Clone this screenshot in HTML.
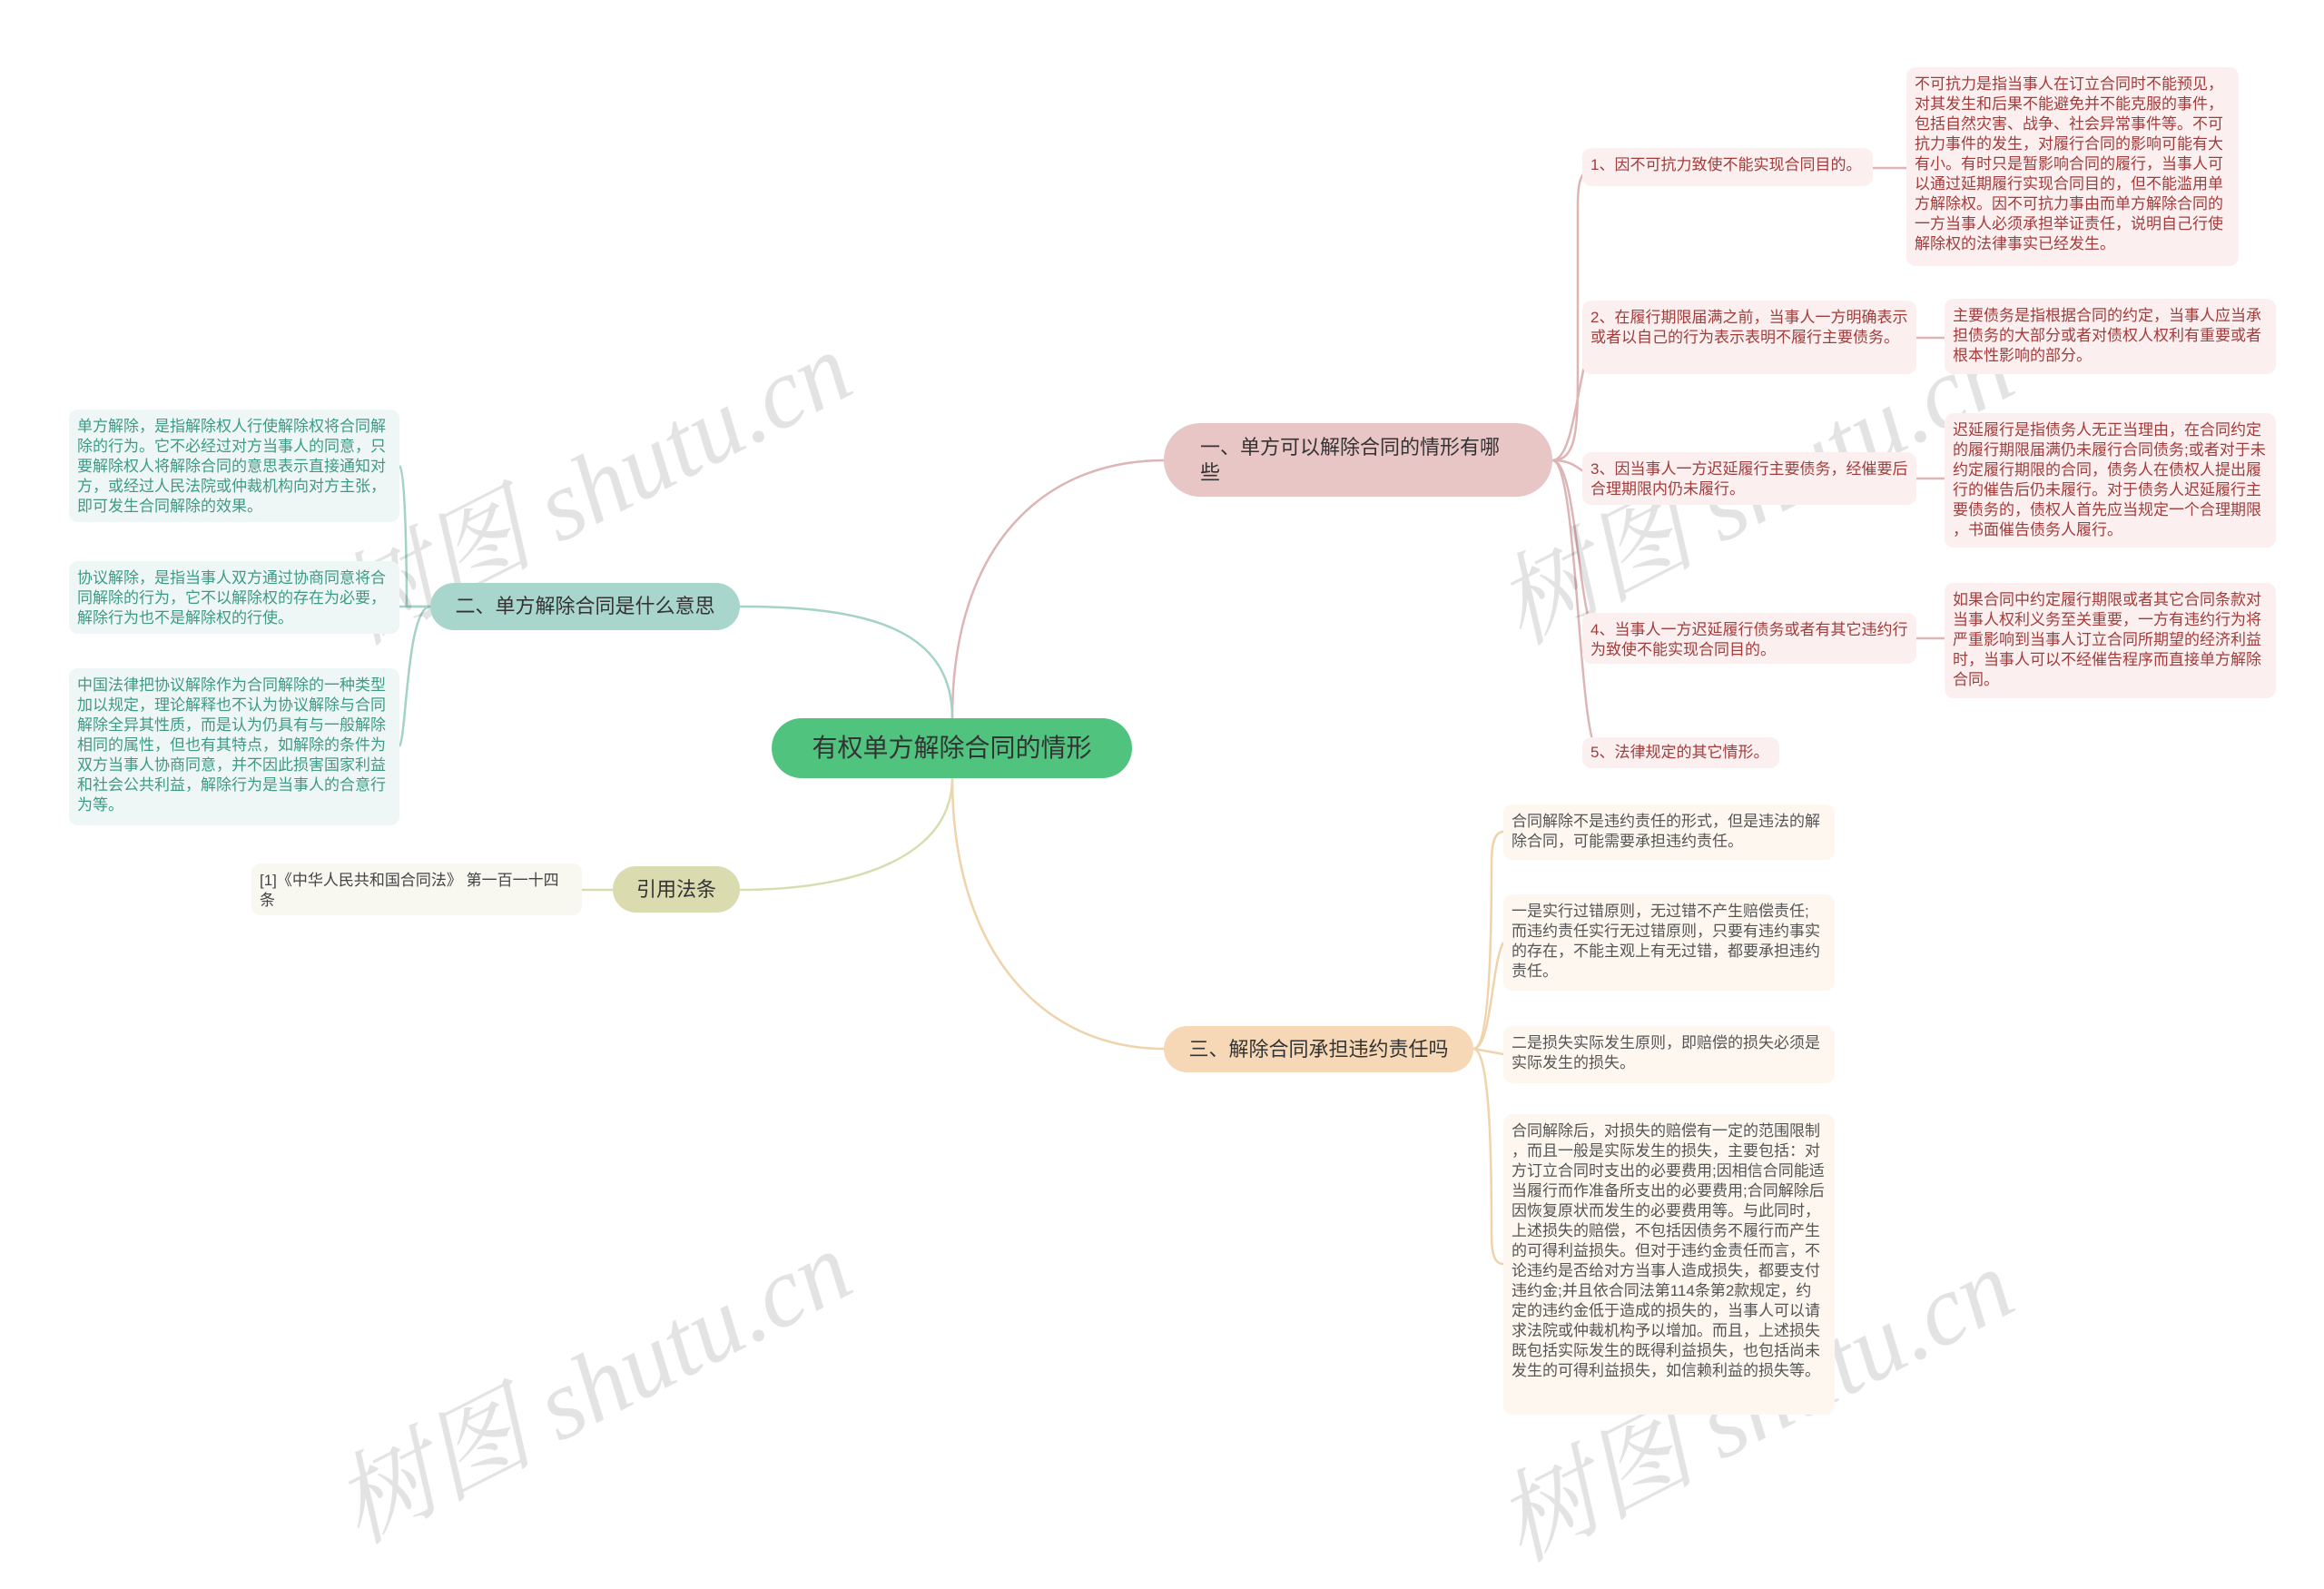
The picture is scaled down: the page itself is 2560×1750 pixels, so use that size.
<!DOCTYPE html>
<html><head><meta charset="utf-8"><style>
body{margin:0;width:2560px;height:1622px;background:#fff;position:relative;overflow:hidden;font-family:"Liberation Sans","Noto Sans CJK SC",sans-serif}
.n{position:absolute;box-sizing:border-box;border-radius:10px;font-size:17px;line-height:22px;padding:8px 9px;word-break:break-all;line-break:anywhere}
.p{background:#fbf0ef;color:#a23c3c}
.t{background:#eef7f5;color:#3e9a86}
.o{background:#fdf7ef;color:#555}
.b{position:absolute;box-sizing:border-box;border-radius:30px;font-size:22px;line-height:28px;color:#333;display:flex;align-items:center;padding:0 36px}
.wm{position:absolute;font-family:"Liberation Serif","Noto Serif CJK SC",serif;font-style:italic;font-size:110px;color:rgba(0,0,0,0.11);transform:rotate(-27deg);white-space:nowrap}
</style></head><body>
<svg width="2560" height="1622" style="position:absolute;left:0;top:0" fill="none" stroke-width="2.5">
<g stroke="#ddb5b5">
<path d="M1049 791 C1049 600 1150 507 1282 507"/>
<path d="M1710 507 C1738 507 1738 470 1738 400 L1738 230 C1738 200 1740 185 1760 185"/>
<path d="M1710 507 C1738 507 1738 380 1760 372"/>
<path d="M1710 507 C1738 507 1738 520 1760 527"/>
<path d="M1710 507 C1738 507 1738 690 1760 703"/>
<path d="M1710 507 C1738 507 1738 810 1760 828"/>
<path d="M2063 185 L2100 185"/><path d="M2111 372 L2142 372"/><path d="M2111 527 L2142 527"/><path d="M2111 703 L2142 703"/>
</g>
<g stroke="#a3d2c6">
<path d="M1049 791 C1049 690 950 668 815 668"/>
<path d="M474 668 L448 668 C448 668 448 520 440 513"/>
<path d="M474 668 L440 668"/>
<path d="M474 668 C448 668 448 810 440 822"/>
</g>
<g stroke="#d9dcb0"><path d="M1049 857 C1049 940 950 980 815 980"/><path d="M675 980 L641 980"/></g>
<g stroke="#f0d2ab">
<path d="M1049 857 C1049 1050 1150 1155 1282 1155"/>
<path d="M1623 1155 L1656 1161"/>
<path d="M1623 1155 C1643 1155 1643 1000 1643 950 C1643 925 1648 916 1656 916"/>
<path d="M1623 1155 C1643 1155 1643 1060 1656 1038"/>
<path d="M1623 1155 C1643 1155 1643 1300 1643 1360 C1643 1385 1648 1392 1656 1392"/>
</g>
</svg>

<div class="wm" style="left:340px;top:450px">树图 shutu.cn</div>
<div class="wm" style="left:1620px;top:450px">树图 shutu.cn</div>
<div class="wm" style="left:340px;top:1440px">树图 shutu.cn</div>
<div class="wm" style="left:1620px;top:1460px">树图 shutu.cn</div>

<div class="b" style="left:850px;top:791px;width:397px;height:66px;background:#50c47e;font-size:28px;border-radius:33px;justify-content:center;padding:0">有权单方解除合同的情形</div>
<div class="b" style="left:1282px;top:466px;width:428px;height:81px;background:#e8c6c5;border-radius:40px;padding:0 40px">一、单方可以解除合同的情形有哪些</div>
<div class="b" style="left:474px;top:642px;width:341px;height:52px;background:#a9d6cc;justify-content:center;padding:0">二、单方解除合同是什么意思</div>
<div class="b" style="left:675px;top:954px;width:140px;height:51px;background:#dadcb0;justify-content:center;padding:0">引用法条</div>
<div class="b" style="left:1282px;top:1130px;width:341px;height:51px;background:#f6d8b6;justify-content:center;padding:0">三、解除合同承担违约责任吗</div>

<div class="n p" style="left:1743px;top:163px;width:320px;height:42px">1、因不可抗力致使不能实现合同目的。</div>
<div class="n p" style="left:2100px;top:74px;width:366px;height:219px">不可抗力是指当事人在订立合同时不能预见，对其发生和后果不能避免并不能克服的事件，包括自然灾害、战争、社会异常事件等。不可抗力事件的发生，对履行合同的影响可能有大有小。有时只是暂影响合同的履行，当事人可以通过延期履行实现合同目的，但不能滥用单方解除权。因不可抗力事由而单方解除合同的一方当事人必须承担举证责任，说明自己行使解除权的法律事实已经发生。</div>
<div class="n p" style="left:1743px;top:331px;width:368px;height:81px">2、在履行期限届满之前，当事人一方明确表示或者以自己的行为表示表明不履行主要债务。</div>
<div class="n p" style="left:2142px;top:329px;width:365px;height:83px">主要债务是指根据合同的约定，当事人应当承担债务的大部分或者对债权人权利有重要或者根本性影响的部分。</div>
<div class="n p" style="left:1743px;top:498px;width:368px;height:58px">3、因当事人一方迟延履行主要债务，经催要后合理期限内仍未履行。</div>
<div class="n p" style="left:2142px;top:455px;width:365px;height:148px">迟延履行是指债务人无正当理由，在合同约定的履行期限届满仍未履行合同债务;或者对于未约定履行期限的合同，债务人在债权人提出履行的催告后仍未履行。对于债务人迟延履行主要债务的，债权人首先应当规定一个合理期限，书面催告债务人履行。</div>
<div class="n p" style="left:1743px;top:675px;width:368px;height:56px">4、当事人一方迟延履行债务或者有其它违约行为致使不能实现合同目的。</div>
<div class="n p" style="left:2142px;top:642px;width:365px;height:127px">如果合同中约定履行期限或者其它合同条款对当事人权利义务至关重要，一方有违约行为将严重影响到当事人订立合同所期望的经济利益时，当事人可以不经催告程序而直接单方解除合同。</div>
<div class="n p" style="left:1743px;top:812px;width:217px;height:34px;padding-top:6px">5、法律规定的其它情形。</div>

<div class="n t" style="left:76px;top:451px;width:364px;height:124px">单方解除，是指解除权人行使解除权将合同解除的行为。它不必经过对方当事人的同意，只要解除权人将解除合同的意思表示直接通知对方，或经过人民法院或仲裁机构向对方主张，即可发生合同解除的效果。</div>
<div class="n t" style="left:76px;top:618px;width:364px;height:80px">协议解除，是指当事人双方通过协商同意将合同解除的行为，它不以解除权的存在为必要，解除行为也不是解除权的行使。</div>
<div class="n t" style="left:76px;top:736px;width:364px;height:173px">中国法律把协议解除作为合同解除的一种类型加以规定，理论解释也不认为协议解除与合同解除全异其性质，而是认为仍具有与一般解除相同的属性，但也有其特点，如解除的条件为双方当事人协商同意，并不因此损害国家利益和社会公共利益，解除行为是当事人的合意行为等。</div>
<div class="n" style="left:277px;top:951px;width:364px;height:57px;background:#f8f8f1;color:#444">[1]《中华人民共和国合同法》 第一百一十四条</div>

<div class="n o" style="left:1656px;top:886px;width:365px;height:61px">合同解除不是违约责任的形式，但是违法的解除合同，可能需要承担违约责任。</div>
<div class="n o" style="left:1656px;top:985px;width:365px;height:106px">一是实行过错原则，无过错不产生赔偿责任;<br>而违约责任实行无过错原则，只要有违约事实的存在，不能主观上有无过错，都要承担违约责任。</div>
<div class="n o" style="left:1656px;top:1130px;width:365px;height:63px">二是损失实际发生原则，即赔偿的损失必须是实际发生的损失。</div>
<div class="n o" style="left:1656px;top:1227px;width:365px;height:331px">合同解除后，对损失的赔偿有一定的范围限制，而且一般是实际发生的损失，主要包括：对方订立合同时支出的必要费用;因相信合同能适当履行而作准备所支出的必要费用;合同解除后因恢复原状而发生的必要费用等。与此同时，上述损失的赔偿，不包括因债务不履行而产生的可得利益损失。但对于违约金责任而言，不论违约是否给对方当事人造成损失，都要支付违约金;并且依合同法第114条第2款规定，约定的违约金低于造成的损失的，当事人可以请求法院或仲裁机构予以增加。而且，上述损失既包括实际发生的既得利益损失，也包括尚未发生的可得利益损失，如信赖利益的损失等。</div>
</body></html>
